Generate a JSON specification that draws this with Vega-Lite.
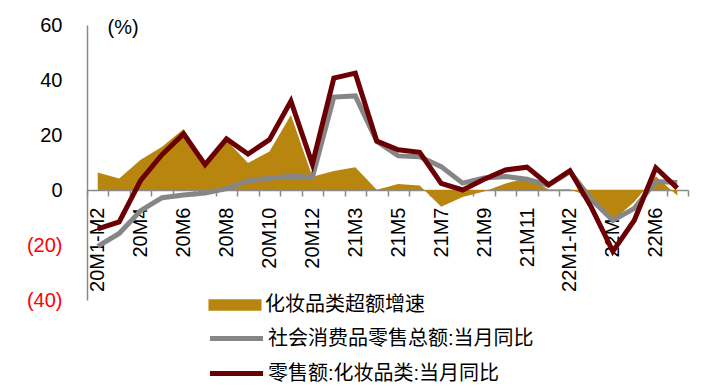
{
  "$schema": "https://vega.github.io/schema/vega-lite/v6.json",
  "width": 601,
  "height": 275,
  "autosize": {"type": "none"},
  "padding": {"left": 87, "top": 25, "right": 29, "bottom": 88},
  "background": "white",
  "config": {"font": "Liberation Sans, Arial, Noto Sans CJK SC", "view": {"stroke": null}},
  "data": {
    "values": [
      {"m": "20M1-M2", "s": "化妆品类超额增速", "v": 6.4},
      {"m": "20M3", "s": "化妆品类超额增速", "v": 4.2},
      {"m": "20M4", "s": "化妆品类超额增速", "v": 11.0},
      {"m": "20M5", "s": "化妆品类超额增速", "v": 15.7},
      {"m": "20M6", "s": "化妆品类超额增速", "v": 22.2},
      {"m": "20M7", "s": "化妆品类超额增速", "v": 10.3},
      {"m": "20M8", "s": "化妆品类超额增速", "v": 18.1},
      {"m": "20M9", "s": "化妆品类超额增速", "v": 9.8},
      {"m": "20M10", "s": "化妆品类超额增速", "v": 14.0},
      {"m": "20M11", "s": "化妆品类超额增速", "v": 27.3},
      {"m": "20M12", "s": "化妆品类超额增速", "v": 4.8},
      {"m": "21M1-M2", "s": "化妆品类超额增速", "v": 6.9},
      {"m": "21M3", "s": "化妆品类超额增速", "v": 8.3},
      {"m": "21M4", "s": "化妆品类超额增速", "v": 0.1},
      {"m": "21M5", "s": "化妆品类超额增速", "v": 2.2},
      {"m": "21M6", "s": "化妆品类超额增速", "v": 1.6},
      {"m": "21M7", "s": "化妆品类超额增速", "v": -6.1},
      {"m": "21M8", "s": "化妆品类超额增速", "v": -2.5},
      {"m": "21M9", "s": "化妆品类超额增速", "v": -0.5},
      {"m": "21M10", "s": "化妆品类超额增速", "v": 2.4},
      {"m": "21M11", "s": "化妆品类超额增速", "v": 4.4},
      {"m": "21M12", "s": "化妆品类超额增速", "v": 0.2},
      {"m": "22M1-M2", "s": "化妆品类超额增速", "v": 0.3},
      {"m": "22M3", "s": "化妆品类超额增速", "v": -2.8},
      {"m": "22M4", "s": "化妆品类超额增速", "v": -11.2},
      {"m": "22M5", "s": "化妆品类超额增速", "v": -4.3},
      {"m": "22M6", "s": "化妆品类超额增速", "v": 5.0},
      {"m": "22M7", "s": "化妆品类超额增速", "v": -2.0},
      {"m": "20M1-M2", "s": "社会消费品零售总额:当月同比", "v": -20.5},
      {"m": "20M3", "s": "社会消费品零售总额:当月同比", "v": -15.8},
      {"m": "20M4", "s": "社会消费品零售总额:当月同比", "v": -7.5},
      {"m": "20M5", "s": "社会消费品零售总额:当月同比", "v": -2.8},
      {"m": "20M6", "s": "社会消费品零售总额:当月同比", "v": -1.8},
      {"m": "20M7", "s": "社会消费品零售总额:当月同比", "v": -1.1},
      {"m": "20M8", "s": "社会消费品零售总额:当月同比", "v": 0.5},
      {"m": "20M9", "s": "社会消费品零售总额:当月同比", "v": 3.3},
      {"m": "20M10", "s": "社会消费品零售总额:当月同比", "v": 4.3},
      {"m": "20M11", "s": "社会消费品零售总额:当月同比", "v": 5.0},
      {"m": "20M12", "s": "社会消费品零售总额:当月同比", "v": 4.6},
      {"m": "21M1-M2", "s": "社会消费品零售总额:当月同比", "v": 33.8},
      {"m": "21M3", "s": "社会消费品零售总额:当月同比", "v": 34.2},
      {"m": "21M4", "s": "社会消费品零售总额:当月同比", "v": 17.7},
      {"m": "21M5", "s": "社会消费品零售总额:当月同比", "v": 12.4},
      {"m": "21M6", "s": "社会消费品零售总额:当月同比", "v": 12.1},
      {"m": "21M7", "s": "社会消费品零售总额:当月同比", "v": 8.5},
      {"m": "21M8", "s": "社会消费品零售总额:当月同比", "v": 2.5},
      {"m": "21M9", "s": "社会消费品零售总额:当月同比", "v": 4.4},
      {"m": "21M10", "s": "社会消费品零售总额:当月同比", "v": 4.9},
      {"m": "21M11", "s": "社会消费品零售总额:当月同比", "v": 3.9},
      {"m": "21M12", "s": "社会消费品零售总额:当月同比", "v": 1.7},
      {"m": "22M1-M2", "s": "社会消费品零售总额:当月同比", "v": 6.7},
      {"m": "22M3", "s": "社会消费品零售总额:当月同比", "v": -3.5},
      {"m": "22M4", "s": "社会消费品零售总额:当月同比", "v": -11.1},
      {"m": "22M5", "s": "社会消费品零售总额:当月同比", "v": -6.7},
      {"m": "22M6", "s": "社会消费品零售总额:当月同比", "v": 3.1},
      {"m": "22M7", "s": "社会消费品零售总额:当月同比", "v": 2.7},
      {"m": "20M1-M2", "s": "零售额:化妆品类:当月同比", "v": -14.1},
      {"m": "20M3", "s": "零售额:化妆品类:当月同比", "v": -11.6},
      {"m": "20M4", "s": "零售额:化妆品类:当月同比", "v": 3.5},
      {"m": "20M5", "s": "零售额:化妆品类:当月同比", "v": 12.9},
      {"m": "20M6", "s": "零售额:化妆品类:当月同比", "v": 20.4},
      {"m": "20M7", "s": "零售额:化妆品类:当月同比", "v": 9.2},
      {"m": "20M8", "s": "零售额:化妆品类:当月同比", "v": 18.6},
      {"m": "20M9", "s": "零售额:化妆品类:当月同比", "v": 13.1},
      {"m": "20M10", "s": "零售额:化妆品类:当月同比", "v": 18.3},
      {"m": "20M11", "s": "零售额:化妆品类:当月同比", "v": 32.3},
      {"m": "20M12", "s": "零售额:化妆品类:当月同比", "v": 9.4},
      {"m": "21M1-M2", "s": "零售额:化妆品类:当月同比", "v": 40.7},
      {"m": "21M3", "s": "零售额:化妆品类:当月同比", "v": 42.5},
      {"m": "21M4", "s": "零售额:化妆品类:当月同比", "v": 17.8},
      {"m": "21M5", "s": "零售额:化妆品类:当月同比", "v": 14.6},
      {"m": "21M6", "s": "零售额:化妆品类:当月同比", "v": 13.7},
      {"m": "21M7", "s": "零售额:化妆品类:当月同比", "v": 2.4},
      {"m": "21M8", "s": "零售额:化妆品类:当月同比", "v": 0.0},
      {"m": "21M9", "s": "零售额:化妆品类:当月同比", "v": 3.9},
      {"m": "21M10", "s": "零售额:化妆品类:当月同比", "v": 7.3},
      {"m": "21M11", "s": "零售额:化妆品类:当月同比", "v": 8.3},
      {"m": "21M12", "s": "零售额:化妆品类:当月同比", "v": 1.9},
      {"m": "22M1-M2", "s": "零售额:化妆品类:当月同比", "v": 7.0},
      {"m": "22M3", "s": "零售额:化妆品类:当月同比", "v": -6.3},
      {"m": "22M4", "s": "零售额:化妆品类:当月同比", "v": -22.3},
      {"m": "22M5", "s": "零售额:化妆品类:当月同比", "v": -11.0},
      {"m": "22M6", "s": "零售额:化妆品类:当月同比", "v": 8.1},
      {"m": "22M7", "s": "零售额:化妆品类:当月同比", "v": 0.7}
    ]
  },
  "encoding": {
    "x": {
      "field": "m",
      "type": "ordinal",
      "sort": null,
      "bandPosition": 0.5,
      "scale": {"type": "band", "paddingInner": 0, "paddingOuter": 0},
      "axis": {
        "title": null,
        "orient": "bottom",
        "offset": -110,
        "labelAngle": -90,
        "labelFontSize": 20,
        "labelColor": "black",
        "labelPadding": 11,
        "labelOverlap": false,
        "labelExpr": "indexof(['20M1-M2','20M4','20M6','20M8','20M10','20M12','21M3','21M5','21M7','21M9','21M11','22M1-M2','22M4','22M6'], datum.value) >= 0 ? datum.value : ''",
        "tickBand": "extent",
        "ticks": true,
        "tickSize": 6,
        "tickColor": "#8a8a8a",
        "tickWidth": 1.5,
        "domainColor": "#8a8a8a",
        "domainWidth": 1.5,
        "grid": false
      }
    }
  },
  "layer": [
    {
      "transform": [{"filter": "datum.s === '化妆品类超额增速'"}],
      "mark": {"type": "area", "opacity": 1},
      "encoding": {
        "y": {
          "field": "v",
          "type": "quantitative",
          "scale": {"domain": [-40, 60], "nice": false, "zero": false},
          "axis": {
            "title": "(%)",
            "titleAngle": 0,
            "titleAlign": "left",
            "titleBaseline": "middle",
            "titleX": 20,
            "titleY": 2,
            "titleFontSize": 20,
            "titleFontWeight": "normal",
            "titleColor": "black",
            "values": [-40, -20, 0, 20, 40, 60],
            "labelExpr": "datum.value < 0 ? '(' + abs(datum.value) + ')' : '' + datum.value",
            "labelColor": {"condition": {"test": "datum.value < 0", "value": "#ff0000"}, "value": "black"},
            "labelFontSize": 20,
            "labelPadding": 25,
            "ticks": false,
            "grid": false,
            "domainColor": "#8a8a8a",
            "domainWidth": 1.5
          }
        },
        "fill": {
          "field": "s",
          "type": "nominal",
          "scale": {"domain": ["化妆品类超额增速"], "range": ["#B8860F"]},
          "legend": {
            "orient": "none",
            "legendX": 138,
            "legendY": 270,
            "title": null,
            "symbolType": "M-3,-0.65H3V0.65H-3Z",
            "symbolSize": 313,
            "symbolStrokeWidth": 0,
            "labelFontSize": 20,
            "labelColor": "black",
            "labelOffset": 20,
            "labelLimit": 0
          }
        }
      }
    },
    {
      "transform": [{"filter": "datum.s !== '化妆品类超额增速'"}],
      "mark": {"type": "line", "strokeWidth": 5, "strokeJoin": "miter"},
      "encoding": {
        "y": {"field": "v", "type": "quantitative"},
        "stroke": {
          "field": "s",
          "type": "nominal",
          "sort": null,
          "scale": {"domain": ["社会消费品零售总额:当月同比", "零售额:化妆品类:当月同比"], "range": ["#868686", "#6B0004"]},
          "legend": {
            "orient": "none",
            "legendX": 138,
            "legendY": 302,
            "title": null,
            "symbolType": "M-3,0H3",
            "symbolSize": 313,
            "symbolStrokeWidth": 5,
            "labelFontSize": 20,
            "labelColor": "black",
            "labelOffset": 20,
            "labelLimit": 0,
            "rowPadding": 13
          }
        }
      }
    }
  ]
}
